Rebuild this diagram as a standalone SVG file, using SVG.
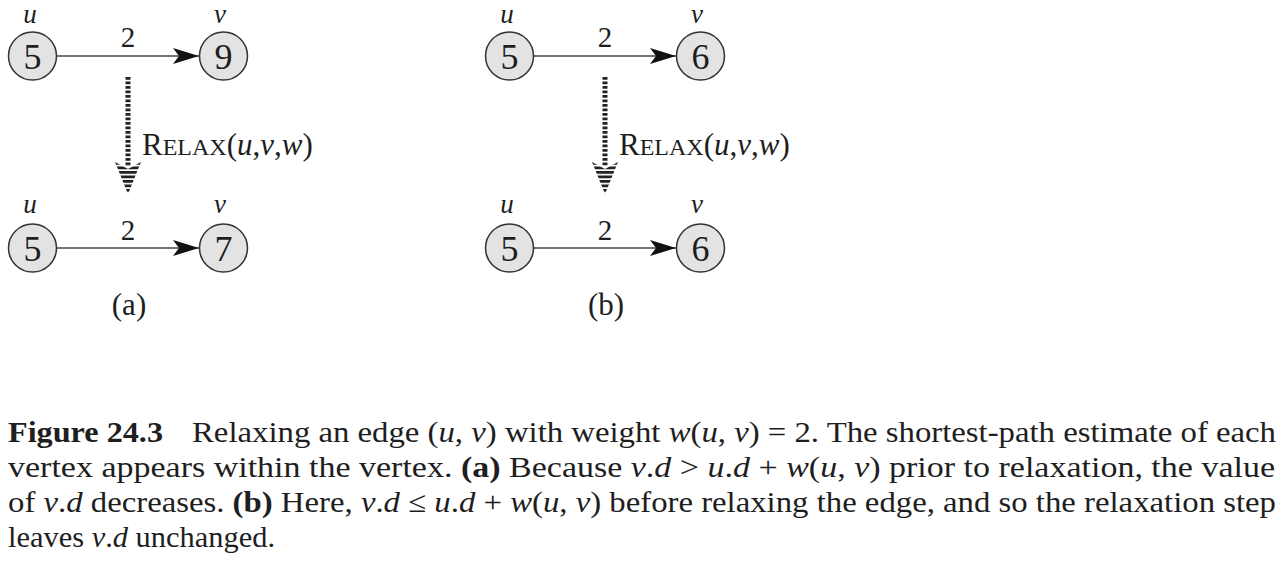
<svg xmlns="http://www.w3.org/2000/svg" width="1280" height="568" viewBox="0 0 1280 568">
<style>
text{font-family:"Liberation Serif","Times New Roman",Times,serif;fill:#1e1e1e}
.node{fill:#e3e3e3;stroke:#333;stroke-width:1.5}
.num{font-size:36px;text-anchor:middle}
.lbl{font-style:italic;font-size:27px;text-anchor:middle}
.w{font-size:29px;text-anchor:middle}
.edge{stroke:#444;stroke-width:1.6;fill:none}
.relax{font-size:31px}
.sub{font-size:31px;text-anchor:middle}
.cap{font-size:29.5px}
.dash{stroke:#222;stroke-width:5;stroke-dasharray:2.7 1.8;fill:none}
</style>
<defs>
<marker id="ah" viewBox="0 0 26 16" refX="26" refY="8" markerWidth="26" markerHeight="16" markerUnits="userSpaceOnUse" orient="auto">
<path d="M0,0 L26,8 L0,16 L6,8 Z" fill="#111"/>
</marker>
<pattern id="stripes" patternUnits="userSpaceOnUse" width="10" height="4.5">
<rect x="0" y="0" width="10" height="2.8" fill="#222"/>
</pattern>
</defs>

<g id="connectors">
<line class="edge" x1="57" y1="56" x2="199" y2="56" marker-end="url(#ah)"/>
<line class="edge" x1="57" y1="248" x2="199" y2="248" marker-end="url(#ah)"/>
<line class="edge" x1="534" y1="56" x2="676" y2="56" marker-end="url(#ah)"/>
<line class="edge" x1="534" y1="248" x2="676" y2="248" marker-end="url(#ah)"/>
<g id="relax-a">
<line class="dash" x1="128" y1="77" x2="128" y2="166"/>
<polygon points="115,162 128,169 141,162 128,194" fill="url(#stripes)"/>
</g>
<g id="relax-b">
<line class="dash" x1="605" y1="77" x2="605" y2="166"/>
<polygon points="592,162 605,169 618,162 605,194" fill="url(#stripes)"/>
</g>
</g>

<g id="edge-labels">
<text class="w" x="128" y="47">2</text>
<text class="w" x="128" y="240">2</text>
<text class="w" x="605" y="47">2</text>
<text class="w" x="605" y="240">2</text>
<text class="relax" x="142" y="155">R<tspan font-size="24">ELAX</tspan>(<tspan font-style="italic">u</tspan>,<tspan font-style="italic">v</tspan>,<tspan font-style="italic">w</tspan>)</text>
<text class="relax" x="619" y="155">R<tspan font-size="24">ELAX</tspan>(<tspan font-style="italic">u</tspan>,<tspan font-style="italic">v</tspan>,<tspan font-style="italic">w</tspan>)</text>
</g>

<g id="a-top-u"><circle class="node" cx="32.5" cy="56" r="24"/><text class="num" x="32.5" y="68.5">5</text><text class="lbl" x="30" y="23">u</text></g>
<g id="a-top-v"><circle class="node" cx="223.5" cy="56" r="24"/><text class="num" x="223.5" y="68.5">9</text><text class="lbl" x="220" y="23">v</text></g>
<g id="a-bot-u"><circle class="node" cx="32.5" cy="248" r="24"/><text class="num" x="32.5" y="260.5">5</text><text class="lbl" x="30" y="213">u</text></g>
<g id="a-bot-v"><circle class="node" cx="223.5" cy="248" r="24"/><text class="num" x="223.5" y="260.5">7</text><text class="lbl" x="220" y="213">v</text></g>
<g id="b-top-u"><circle class="node" cx="509.5" cy="56" r="24"/><text class="num" x="509.5" y="68.5">5</text><text class="lbl" x="507" y="23">u</text></g>
<g id="b-top-v"><circle class="node" cx="700.5" cy="56" r="24"/><text class="num" x="700.5" y="68.5">6</text><text class="lbl" x="697" y="23">v</text></g>
<g id="b-bot-u"><circle class="node" cx="509.5" cy="248" r="24"/><text class="num" x="509.5" y="260.5">5</text><text class="lbl" x="507" y="213">u</text></g>
<g id="b-bot-v"><circle class="node" cx="700.5" cy="248" r="24"/><text class="num" x="700.5" y="260.5">6</text><text class="lbl" x="697" y="213">v</text></g>

<text class="sub" x="129" y="315">(a)</text>
<text class="sub" x="606" y="315">(b)</text>

<g id="caption">
<text class="cap" x="8" y="442" font-weight="bold" textLength="155" lengthAdjust="spacingAndGlyphs">Figure 24.3</text>
<text class="cap" x="192" y="442" textLength="1084" lengthAdjust="spacingAndGlyphs">Relaxing an edge (<tspan font-style="italic">u</tspan>, <tspan font-style="italic">v</tspan>) with weight <tspan font-style="italic">w</tspan>(<tspan font-style="italic">u</tspan>, <tspan font-style="italic">v</tspan>) = 2. The shortest-path estimate of each</text>
<text class="cap" x="8" y="477" textLength="1267" lengthAdjust="spacingAndGlyphs">vertex appears within the vertex. <tspan font-weight="bold">(a)</tspan> Because <tspan font-style="italic">v</tspan>.<tspan font-style="italic">d</tspan>  &gt;  <tspan font-style="italic">u</tspan>.<tspan font-style="italic">d</tspan> + <tspan font-style="italic">w</tspan>(<tspan font-style="italic">u</tspan>, <tspan font-style="italic">v</tspan>) prior to relaxation, the value</text>
<text class="cap" x="8" y="512" textLength="1268" lengthAdjust="spacingAndGlyphs">of <tspan font-style="italic">v</tspan>.<tspan font-style="italic">d</tspan> decreases. <tspan font-weight="bold">(b)</tspan> Here, <tspan font-style="italic">v</tspan>.<tspan font-style="italic">d</tspan> ≤ <tspan font-style="italic">u</tspan>.<tspan font-style="italic">d</tspan> + <tspan font-style="italic">w</tspan>(<tspan font-style="italic">u</tspan>, <tspan font-style="italic">v</tspan>) before relaxing the edge, and so the relaxation step</text>
<text class="cap" x="8" y="547" textLength="267" lengthAdjust="spacingAndGlyphs">leaves <tspan font-style="italic">v</tspan>.<tspan font-style="italic">d</tspan> unchanged.</text>
</g>
</svg>
